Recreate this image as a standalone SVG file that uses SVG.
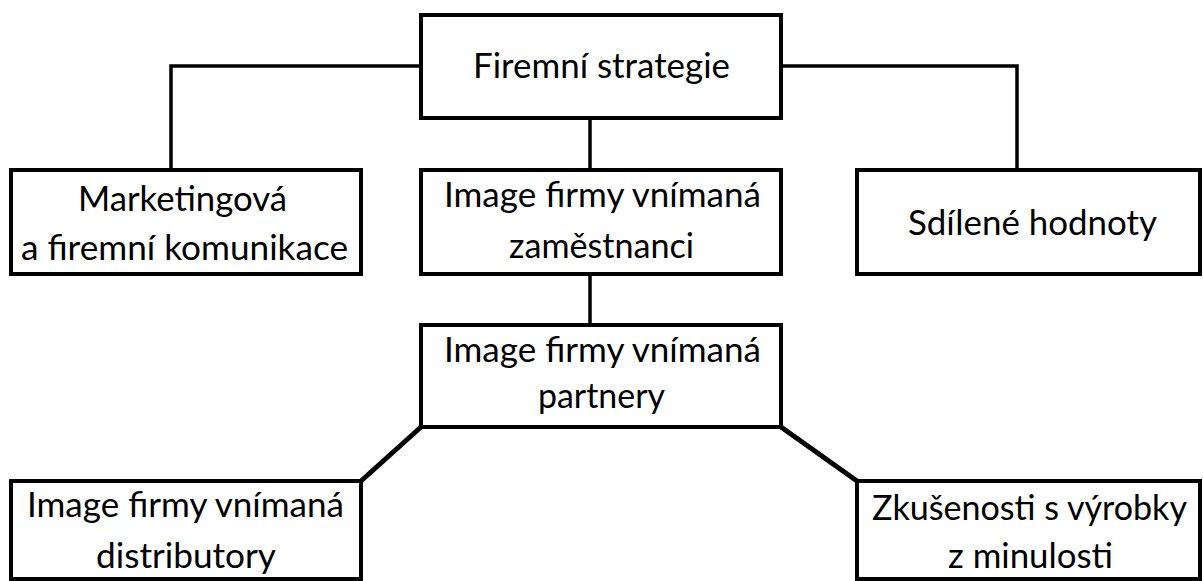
<svg xmlns="http://www.w3.org/2000/svg" width="1203" height="581" viewBox="0 0 1203 581">
<style>
.box{fill:#fff;stroke:#000;stroke-width:4}
.t{font-family:Lato,"Open Sans","Liberation Sans",sans-serif;font-size:34px;fill:#000;text-anchor:middle}
.c{fill:none;stroke:#000;stroke-width:3.5}
.d{fill:none;stroke:#000;stroke-width:5}
</style>
<rect width="1203" height="581" fill="#fff"/>
<g id="connectors">
<path class="c" d="M421,66 H171 V170"/>
<path class="c" d="M781,66 H1017 V170"/>
<path class="c" d="M590,118 V170"/>
<path class="c" d="M590,274 V325"/>
<path class="d" d="M421,427 L361,481"/>
<path class="d" d="M781,427 L857,481"/>
</g>
<g id="n-strategie">
<rect class="box" x="421" y="15" width="360" height="103"/>
<text class="t" x="601.5" y="78" textLength="257" lengthAdjust="spacingAndGlyphs">Firemní strategie</text>
</g>
<g id="n-marketing">
<rect class="box" x="11" y="170" width="350" height="104"/>
<text class="t" x="182.5" y="211" textLength="209" lengthAdjust="spacingAndGlyphs">Marketingová</text>
<text class="t" x="184.5" y="260" textLength="327" lengthAdjust="spacingAndGlyphs">a firemní komunikace</text>
</g>
<g id="n-zamestnanci">
<rect class="box" x="421" y="170" width="360" height="104"/>
<text class="t" x="602.5" y="207" textLength="317" lengthAdjust="spacingAndGlyphs">Image firmy vnímaná</text>
<text class="t" x="601.5" y="258" textLength="185" lengthAdjust="spacingAndGlyphs">zaměstnanci</text>
</g>
<g id="n-hodnoty">
<rect class="box" x="857" y="170" width="343" height="104"/>
<text class="t" x="1032.5" y="235" textLength="249" lengthAdjust="spacingAndGlyphs">Sdílené hodnoty</text>
</g>
<g id="n-partnery">
<rect class="box" x="421" y="325" width="360" height="102"/>
<text class="t" x="602.5" y="362" textLength="317" lengthAdjust="spacingAndGlyphs">Image firmy vnímaná</text>
<text class="t" x="601.5" y="408" textLength="127" lengthAdjust="spacingAndGlyphs">partnery</text>
</g>
<g id="n-distributory">
<rect class="box" x="11" y="481" width="350" height="98"/>
<text class="t" x="185.5" y="517" textLength="317" lengthAdjust="spacingAndGlyphs">Image firmy vnímaná</text>
<text class="t" x="186" y="568" textLength="180" lengthAdjust="spacingAndGlyphs">distributory</text>
</g>
<g id="n-zkusenosti">
<rect class="box" x="857" y="481" width="343" height="98"/>
<text class="t" x="1029.5" y="520" textLength="315" lengthAdjust="spacingAndGlyphs">Zkušenosti s výrobky</text>
<text class="t" x="1030.5" y="568" textLength="165" lengthAdjust="spacingAndGlyphs">z minulosti</text>
</g>
</svg>
